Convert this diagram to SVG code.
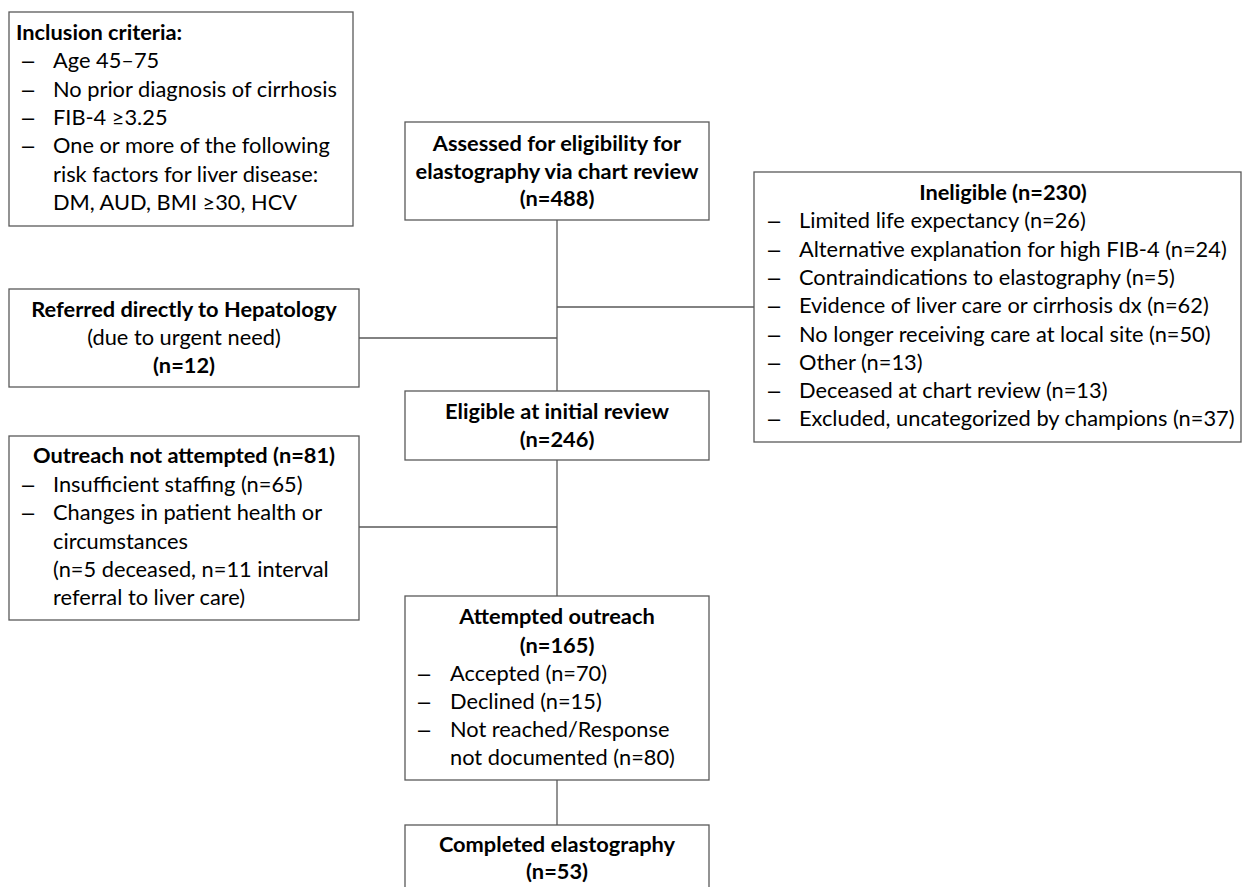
<svg xmlns="http://www.w3.org/2000/svg" width="1242" height="887" viewBox="0 0 1242 887">
<style>
.box{fill:#fff;stroke:#595959;stroke-width:1.3}
.ln{fill:none;stroke:#595959;stroke-width:1.3}
text{font-family:Lato,"Liberation Sans",sans-serif;font-size:21.8px;fill:#000}
.b{font-weight:bold}
.c{text-anchor:middle}
.d{font-family:"Liberation Sans",sans-serif}
</style>
<rect width="1242" height="887" fill="#fff"/>
<g id="connectors">
<line class="ln" x1="557" y1="220" x2="557" y2="391"/>
<line class="ln" x1="557" y1="307" x2="755" y2="307"/>
<line class="ln" x1="359" y1="338" x2="557" y2="338"/>
<line class="ln" x1="557" y1="460" x2="557" y2="596"/>
<line class="ln" x1="359" y1="527" x2="557" y2="527"/>
<line class="ln" x1="557" y1="780" x2="557" y2="825"/>
</g>
<g id="inclusion">
<rect class="box" x="9" y="12" width="344" height="214"/>
<text class="b" x="16" y="40">Inclusion criteria:</text>
<text class="d" x="22" y="68">–</text><text x="53" y="68">Age 45–75</text>
<text class="d" x="22" y="96.5">–</text><text x="53" y="96.5">No prior diagnosis of cirrhosis</text>
<text class="d" x="22" y="125">–</text><text x="53" y="125">FIB-4 ≥3.25</text>
<text class="d" x="22" y="153">–</text><text x="53" y="153">One or more of the following</text>
<text x="53" y="181.5">risk factors for liver disease:</text>
<text x="53" y="210">DM, AUD, BMI ≥30, HCV</text>
</g>
<g id="assessed">
<rect class="box" x="405" y="122" width="304" height="98"/>
<text class="b c" x="557" y="151">Assessed for eligibility for</text>
<text class="b c" x="557" y="178.5">elastography via chart review</text>
<text class="b c" x="557" y="206">(n=488)</text>
</g>
<g id="ineligible">
<rect class="box" x="754" y="172" width="487" height="270"/>
<text class="b c" x="1003" y="200">Ineligible (n=230)</text>
<text class="d" x="768" y="228.3">–</text><text x="799" y="228.3">Limited life expectancy (n=26)</text>
<text class="d" x="768" y="256.6">–</text><text x="799" y="256.6">Alternative explanation for high FIB-4 (n=24)</text>
<text class="d" x="768" y="284.9">–</text><text x="799" y="284.9">Contraindications to elastography (n=5)</text>
<text class="d" x="768" y="313.2">–</text><text x="799" y="313.2">Evidence of liver care or cirrhosis dx (n=62)</text>
<text class="d" x="768" y="341.5">–</text><text x="799" y="341.5">No longer receiving care at local site (n=50)</text>
<text class="d" x="768" y="369.8">–</text><text x="799" y="369.8">Other (n=13)</text>
<text class="d" x="768" y="398.1">–</text><text x="799" y="398.1">Deceased at chart review (n=13)</text>
<text class="d" x="768" y="426.4">–</text><text x="799" y="426.4">Excluded, uncategorized by champions (n=37)</text>
</g>
<g id="referred">
<rect class="box" x="9" y="289" width="350" height="98"/>
<text class="b c" x="184" y="317">Referred directly to Hepatology</text>
<text class="c" x="184" y="345">(due to urgent need)</text>
<text class="b c" x="184" y="373">(n=12)</text>
</g>
<g id="eligible">
<rect class="box" x="405" y="391" width="304" height="69"/>
<text class="b c" x="557" y="419">Eligible at initial review</text>
<text class="b c" x="557" y="446.5">(n=246)</text>
</g>
<g id="not-attempted">
<rect class="box" x="9" y="436" width="350" height="184"/>
<text class="b c" x="184" y="463">Outreach not attempted (n=81)</text>
<text class="d" x="22" y="491.5">–</text><text x="53" y="491.5">Insufficient staffing (n=65)</text>
<text class="d" x="22" y="520">–</text><text x="53" y="520">Changes in patient health or</text>
<text x="53" y="548.5">circumstances</text>
<text x="53" y="577">(n=5 deceased, n=11 interval</text>
<text x="53" y="605">referral to liver care)</text>
</g>
<g id="attempted">
<rect class="box" x="405" y="596" width="304" height="184"/>
<text class="b c" x="557" y="624">Attempted outreach</text>
<text class="b c" x="557" y="652.5">(n=165)</text>
<text class="d" x="418" y="680.5">–</text><text x="450" y="680.5">Accepted (n=70)</text>
<text class="d" x="418" y="708.5">–</text><text x="450" y="708.5">Declined (n=15)</text>
<text class="d" x="418" y="736.5">–</text><text x="450" y="736.5">Not reached/Response</text>
<text x="450" y="765">not documented (n=80)</text>
</g>
<g id="completed">
<rect class="box" x="405" y="825" width="304" height="80"/>
<text class="b c" x="557" y="852">Completed elastography</text>
<text class="b c" x="557" y="879">(n=53)</text>
</g>
</svg>
